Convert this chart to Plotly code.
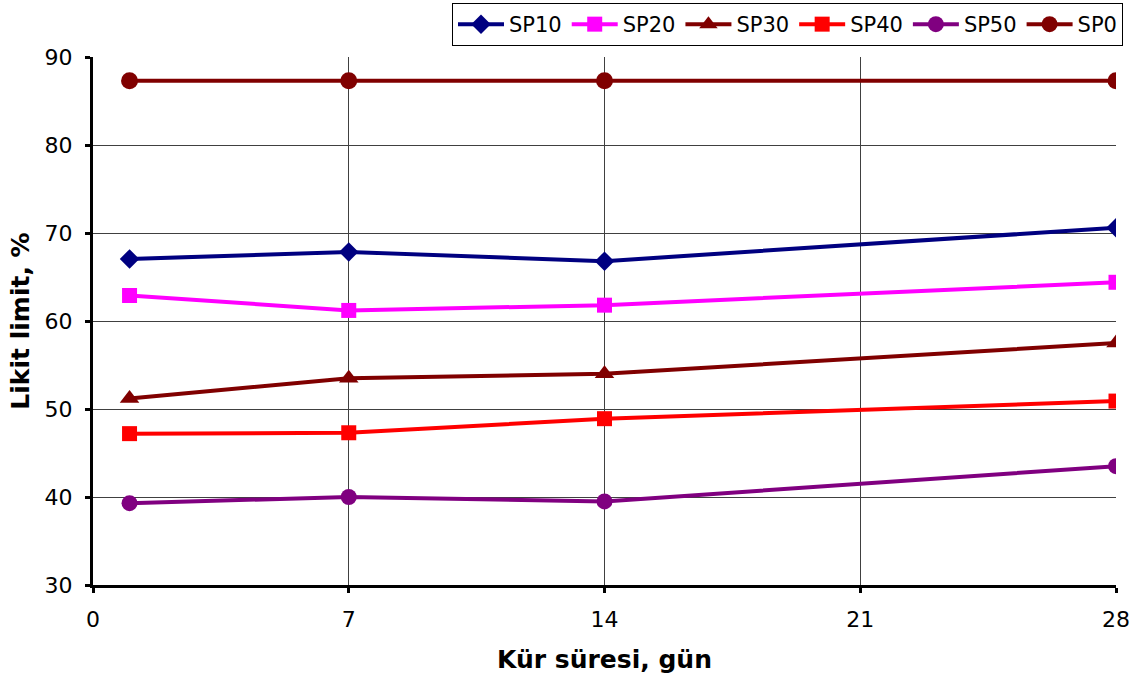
import plotly.graph_objects as go

x_days = [1, 7, 14, 28]
series_names = ["SP10", "SP20", "SP30", "SP40", "SP50", "SP0"]
sp10 = [67.05, 67.85, 66.8, 70.6]
sp20 = [62.9, 61.2, 61.8, 64.4]
sp30 = [51.2, 53.5, 54.0, 57.5]
sp40 = [47.2, 47.3, 48.9, 50.9]
sp50 = [39.3, 40.0, 39.5, 43.5]
sp0 = [87.3, 87.3, 87.3, 87.3]
x_ticks = [0, 7, 14, 21, 28]
y_ticks = [30, 40, 50, 60, 70, 80, 90]

values = [sp10, sp20, sp30, sp40, sp50, sp0]
colors = ["#000080", "#FF00FF", "#800000", "#FF0000", "#800080", "#800000"]
symbols = ["diamond", "square", "triangle-up", "square", "circle", "circle"]
sizes = [15, 15, 17, 15, 16, 17]

font_family = "Verdana, DejaVu Sans, sans-serif"

fig = go.Figure()
for name, v, c, s, sz in zip(series_names, values, colors, symbols, sizes):
    fig.add_trace(go.Scatter(
        x=x_days, y=v, name=name, mode="lines+markers",
        line=dict(color=c, width=4),
        marker=dict(symbol=s, size=sz, color=c),
    ))

fig.update_layout(
    width=1139, height=684,
    margin=dict(l=93, r=23, t=57, b=99, autoexpand=False),
    paper_bgcolor="white", plot_bgcolor="white",
    font=dict(family=font_family, size=22, color="black"),
    showlegend=True,
    legend=dict(
        orientation="h", xref="container", yref="container",
        x=1123 / 1139, xanchor="right", y=1 - 3 / 684, yanchor="top",
        bordercolor="black", borderwidth=1, bgcolor="white",
        font=dict(size=21), itemwidth=46, tracegroupgap=0,
    ),
    xaxis=dict(
        range=[0, 28], tickvals=x_ticks, showgrid=True, gridcolor="#404040", gridwidth=1,
        showline=True, linecolor="black", linewidth=3, ticks="outside", ticklen=5,
        tickwidth=3, tickcolor="black", zeroline=False,
        tickfont=dict(size=22), ticklabelstandoff=8,
        title=dict(text="<b>Kür süresi, gün</b>", font=dict(size=25), standoff=20),
    ),
    yaxis=dict(
        range=[30, 90], tickvals=y_ticks, showgrid=True, gridcolor="#404040", gridwidth=1,
        showline=True, linecolor="black", linewidth=3, ticks="outside", ticklen=5,
        tickwidth=3, tickcolor="black", zeroline=False,
        tickfont=dict(size=22), ticklabelstandoff=8,
        title=dict(text="<b>Likit limit, %</b>", font=dict(size=25), standoff=8),
    ),
)

fig.write_html("out.html")
